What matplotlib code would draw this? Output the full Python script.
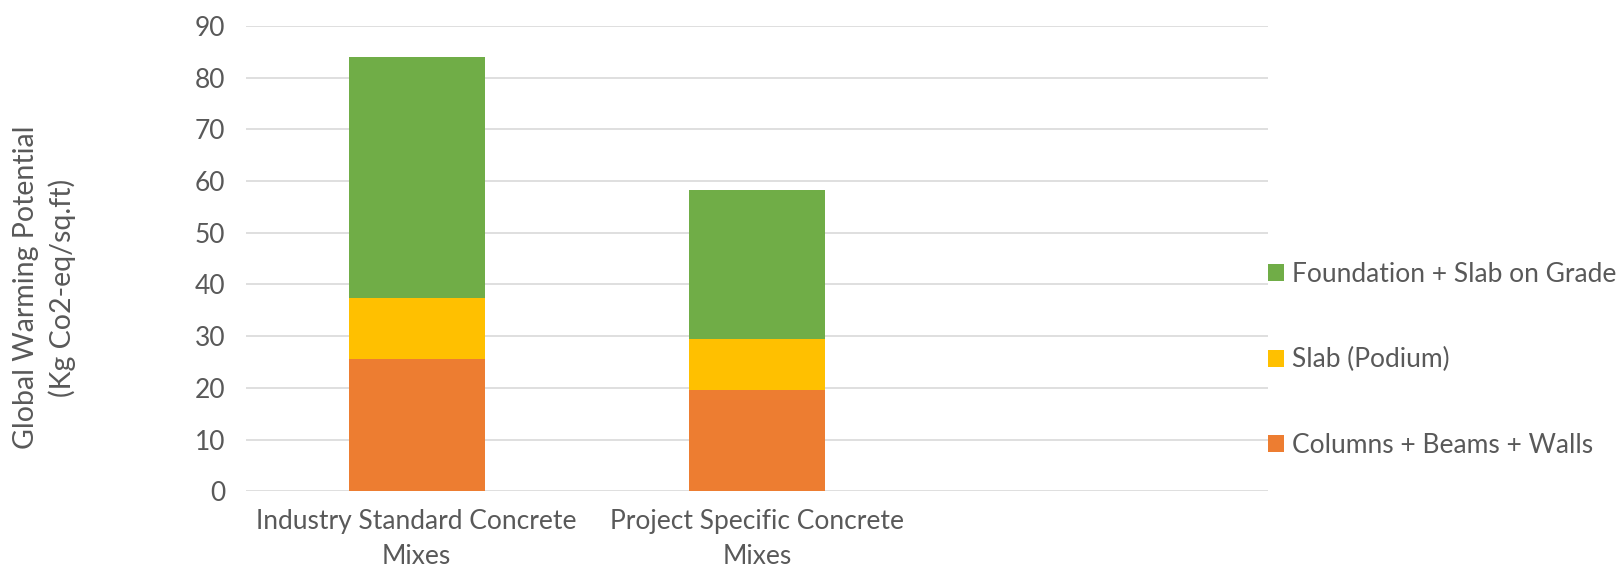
import numpy as np
import matplotlib
matplotlib.use("Agg")
import matplotlib.pyplot as plt

plt.rcParams['font.family'] = ['Lato', 'DejaVu Sans']

categories = ['Industry Standard Concrete\nMixes', 'Project Specific Concrete\nMixes']
columns_beams_walls = [25.6, 19.5]
slab_podium = [11.85, 10.0]
foundation_slab = [46.55, 28.7]

series = ['Columns + Beams + Walls', 'Slab (Podium)', 'Foundation + Slab on Grade']
colors = ['#ED7D31', '#FFC000', '#70AD47']
grey = '#595959'

fig = plt.figure(figsize=(16.21, 5.75), dpi=100)
ax = fig.add_axes([0.152, 0.1456, 0.630, 0.8094])

x = np.arange(len(categories))
bottom = np.zeros(len(categories))
handles = []
for vals, name, c in zip([columns_beams_walls, slab_podium, foundation_slab], series, colors):
    b = ax.bar(x, vals, width=0.4, bottom=bottom, color=c, label=name, zorder=3)
    handles.append(b)
    bottom += np.array(vals)

ax.set_xlim(-0.5, 2.5)
ax.set_ylim(0, 90)
ax.set_yticks(range(0, 91, 10))
ax.set_xticks(x)
ax.set_xticklabels(categories, fontsize=19, color=grey, linespacing=1.5)
ax.tick_params(axis='y', labelsize=19, labelcolor=grey, length=0, pad=15)
ax.tick_params(axis='x', length=0, pad=13)
ax.grid(axis='y', color='#D9D9D9', linewidth=1.2, zorder=0)
for s in ax.spines.values():
    s.set_visible(False)

fig.text(0.0275, 0.50, 'Global Warming Potential\n(Kg Co2-eq/sq.ft)', rotation=90,
         ha='center', va='center', fontsize=20.5, color=grey, linespacing=1.4)

leg = ax.legend(handles[::-1], series[::-1], loc='center left',
                bbox_to_anchor=(0.782, 0.374), bbox_transform=fig.transFigure,
                frameon=False, fontsize=19, labelspacing=2.3, handlelength=0.62,
                handleheight=0.62, handletextpad=0.3, borderpad=0, borderaxespad=0)
for t in leg.get_texts():
    t.set_color(grey)

fig.savefig('out.png', dpi=100)
